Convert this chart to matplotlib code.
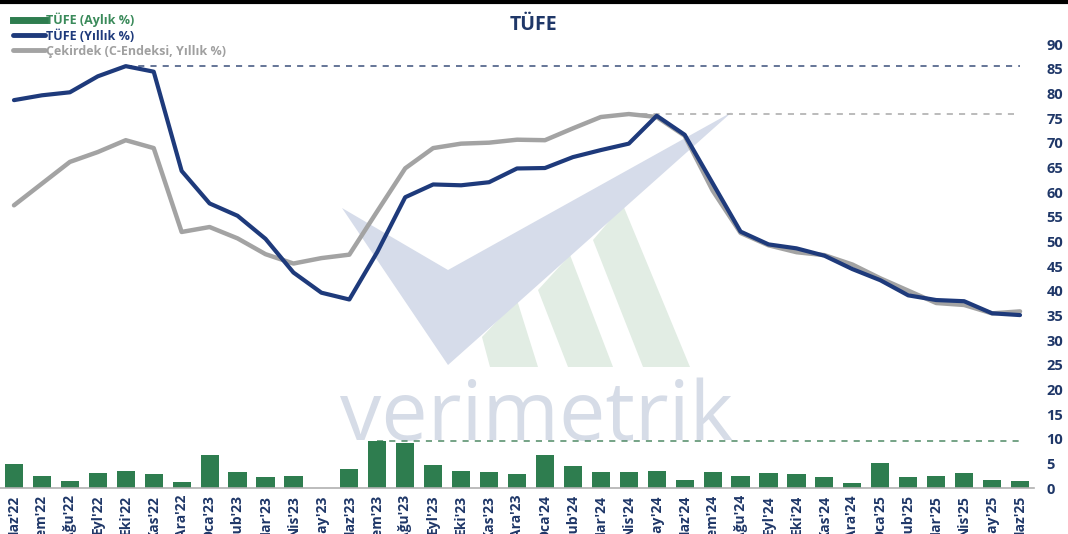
import matplotlib
matplotlib.use("Agg")
import matplotlib.pyplot as plt
from matplotlib.patches import Polygon
from matplotlib.lines import Line2D
import numpy as np

months = ["Haz'22", "Tem'22", "Ağu'22", "Eyl'22", "Eki'22", "Kas'22", "Ara'22",
          "Oca'23", "Şub'23", "Mar'23", "Nis'23", "May'23", "Haz'23", "Tem'23",
          "Ağu'23", "Eyl'23", "Eki'23", "Kas'23", "Ara'23", "Oca'24", "Şub'24",
          "Mar'24", "Nis'24", "May'24", "Haz'24", "Tem'24", "Ağu'24", "Eyl'24",
          "Eki'24", "Kas'24", "Ara'24", "Oca'25", "Şub'25", "Mar'25", "Nis'25",
          "May'25", "Haz'25"]

tufe_aylik = [4.95, 2.37, 1.46, 3.08, 3.54, 2.88, 1.18, 6.65, 3.15, 2.29, 2.39, 0.04,
              3.92, 9.49, 9.09, 4.75, 3.43, 3.28, 2.93, 6.70, 4.53, 3.16, 3.18, 3.37,
              1.64, 3.23, 2.47, 2.97, 2.88, 2.24, 1.03, 5.03, 2.27, 2.46, 3.00, 1.53, 1.37]

tufe_yillik = [78.62, 79.60, 80.21, 83.45, 85.51, 84.39, 64.27, 57.68, 55.18, 50.51,
               43.68, 39.59, 38.21, 47.83, 58.94, 61.53, 61.36, 61.98, 64.77, 64.86,
               67.07, 68.50, 69.80, 75.45, 71.60, 61.78, 51.97, 49.38, 48.58, 47.09,
               44.38, 42.12, 39.05, 38.10, 37.86, 35.41, 35.05]

cekirdek = [57.3, 61.7, 66.1, 68.1, 70.5, 68.9, 51.9, 52.9, 50.6, 47.4, 45.5, 46.6,
            47.3, 56.1, 64.8, 68.9, 69.8, 70.0, 70.6, 70.5, 72.9, 75.2, 75.8, 75.2,
            71.4, 60.3, 51.7, 49.2, 47.8, 47.2, 45.3, 42.5, 40.0, 37.5, 37.1, 35.4, 35.8]

yticks = list(range(0, 95, 5))

NAVY = "#1e3a7b"
GRAY = "#a3a3a3"
GREEN = "#2e7d4f"
TXT = "#1f3768"

plt.rcParams['font.family'] = ['Open Sans', 'DejaVu Sans']

W, H = 1068, 534
fig = plt.figure(figsize=(W / 100, H / 100), dpi=100)
fig.patch.set_facecolor("white")
ax = fig.add_axes([0.0, (H - 488) / H, 1034 / W, (488 - 44) / H])
ax.set_facecolor("none")

x = np.arange(len(months))

def px(pts):
    return [(a / W, 1 - b / H) for a, b in pts]

# watermark (decoration)
for poly in ([(482, 337), (517, 300), (538, 367), (490, 367)],
             [(538, 290), (570, 255), (613, 367), (568, 367)],
             [(593, 240), (623, 205), (690, 367), (643, 367)]):
    fig.patches.append(Polygon(px(poly), closed=True, transform=fig.transFigure,
                               facecolor="#e2ede4", edgecolor="none", zorder=-2))
fig.patches.append(Polygon(px([(342, 208), (448, 270), (732, 112), (448, 365)]),
                           closed=True, transform=fig.transFigure,
                           facecolor="#d6dcea", edgecolor="none", zorder=-1))
wm = fig.text(537 / W, 1 - 440 / H, "verimetrik", ha="center", va="baseline",
              fontsize=56, color="#d6dce7", fontweight="normal", zorder=-1,
              family=["Open Sans", "DejaVu Sans"])

# bars
ax.bar(x, tufe_aylik, width=0.65, color=GREEN, zorder=2)

# lines
ax.plot(x, cekirdek, color=GRAY, lw=3.2, zorder=3, solid_capstyle="round")
ax.plot(x, tufe_yillik, color=NAVY, lw=3.0, zorder=4, solid_capstyle="round")

# max dashed lines
i1 = int(np.argmax(tufe_yillik))
ax.plot([i1, len(months) - 1], [max(tufe_yillik)] * 2, ls=(0, (4, 4)), color="#3b4f7a", lw=1.1, zorder=1)
i2 = int(np.argmax(cekirdek))
ax.plot([i2, len(months) - 1], [max(cekirdek)] * 2, ls=(0, (4, 4)), color="#a8a8a8", lw=1.1, zorder=1)
i3 = int(np.argmax(tufe_aylik))
ax.plot([i3, len(months) - 1], [max(tufe_aylik)] * 2, ls=(0, (4, 4)), color="#4f8a66", lw=1.1, zorder=1)

ax.set_xlim(-0.5, len(months) - 0.5)
ax.set_ylim(0, 90)
ax.yaxis.tick_right()
ax.set_yticks(yticks)
ax.set_yticklabels([str(v) for v in yticks], fontsize=10.5, fontweight="bold", color=TXT)
ax.tick_params(axis="y", length=0, pad=9)
ax.set_xticks(x)
ax.set_xticklabels(months, rotation=90, fontsize=10, fontweight="bold", color=TXT,
                   va="top", ha="center")
ax.tick_params(axis="x", length=0, pad=5)
for s in ["top", "right", "left"]:
    ax.spines[s].set_visible(False)
ax.spines["bottom"].set_color("#b0b0b0")
ax.spines["bottom"].set_linewidth(1.2)

fig.text(533 / W, 1 - 25 / H, "TÜFE", ha="center", va="center", fontsize=14,
         fontweight="bold", color=TXT)

handles = [Line2D([], [], color=GREEN, lw=5),
           Line2D([], [], color=NAVY, lw=3.5, solid_capstyle="round"),
           Line2D([], [], color=GRAY, lw=3.5, solid_capstyle="round")]
labels = ["TÜFE (Aylık %)", "TÜFE (Yıllık %)", "Çekirdek (C-Endeksi, Yıllık %)"]
leg = fig.legend(handles, labels, loc="upper left", bbox_to_anchor=(0.0, 1.0),
                 frameon=False, handlelength=2.6, handletextpad=0.12,
                 labelspacing=0.17, borderpad=0.5, prop={"weight": "bold", "size": 9})
for t, c in zip(leg.get_texts(), ["#3a8a5a", NAVY, "#a0a0a0"]):
    t.set_color(c)

# black top border line as in the reference
fig.add_artist(Line2D([0, 1], [1 - 1.5 / H] * 2, transform=fig.transFigure, color="black", lw=3))

# fit watermark width
fig.canvas.draw()
bb = wm.get_window_extent()
wm.set_fontsize(56 * 393 / bb.width)

fig.savefig("out.png", dpi=100, facecolor="white")
